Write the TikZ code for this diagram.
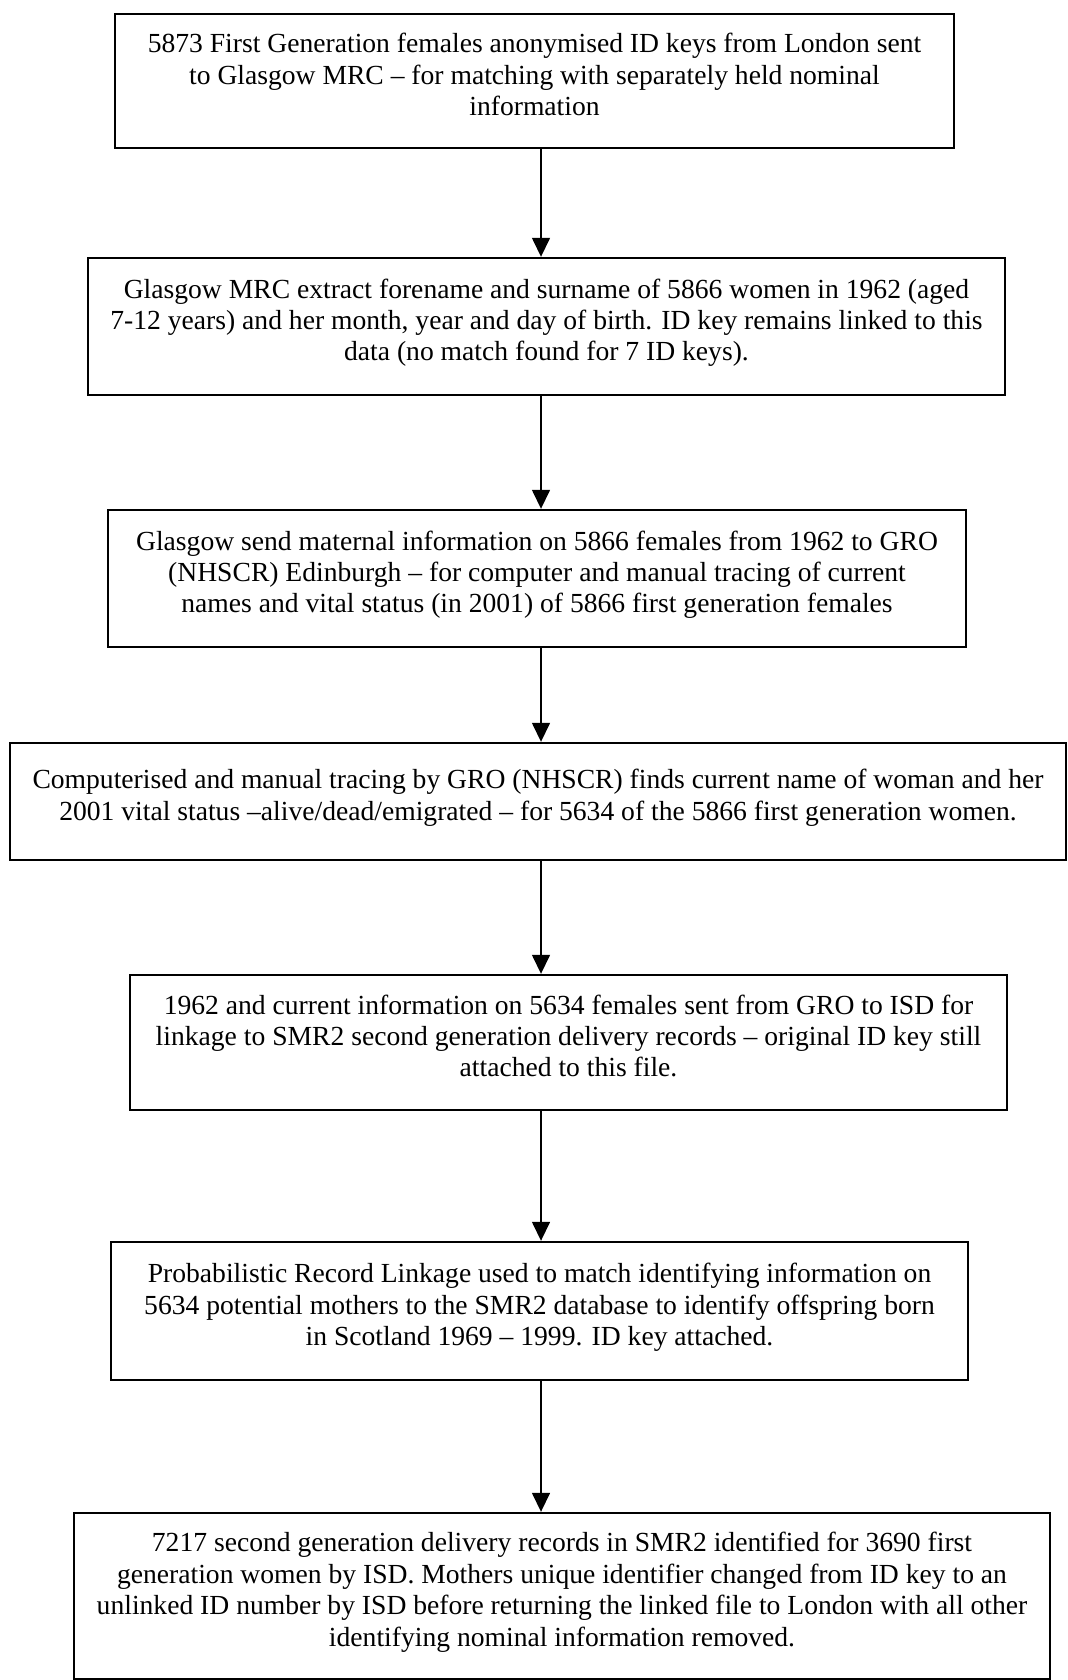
\documentclass[tikz,border=0pt]{standalone}
\usepackage{fontspec}
\setmainfont{Liberation Serif}
\usetikzlibrary{arrows.meta}

\begin{document}
\begin{tikzpicture}[x=0.5pt, y=-0.5pt, >={Triangle[length=9.5pt,width=9pt]},
  stage/.style={rectangle, draw=black, line width=1.2pt, align=center, inner sep=0pt,
    font=\fontsize{13.8}{15.7}\selectfont}]
\useasboundingbox (0,0) rectangle (1067,1680);
\coordinate (spine) at (541,0);
\node[stage, minimum width=419.5pt, minimum height=67pt] (A) at (534.5,81) {5873 First Generation females anonymised ID keys from London sent\\ to Glasgow MRC -- for matching with separately held nominal\\ information\\[-9pt]};
\node[stage, minimum width=458.5pt, minimum height=68.5pt] (B) at (546.5,326.5) {Glasgow MRC extract forename and surname of 5866 women in 1962 (aged\\ 7-12 years) and her month, year and day of birth. ID key remains linked to this\\ data (no match found for 7 ID keys).\\[-9pt]};
\node[stage, minimum width=429pt, minimum height=68.5pt] (C) at (537,578.5) {Glasgow send maternal information on 5866 females from 1962 to GRO\\ (NHSCR) Edinburgh -- for computer and manual tracing of current\\ names and vital status (in 2001) of 5866 first generation females\\[-9pt]};
\node[stage, minimum width=528pt, minimum height=58.5pt] (D) at (538,801.5) {Computerised and manual tracing by GRO (NHSCR) finds current name of woman and her\\ 2001 vital status --alive/dead/emigrated -- for 5634 of the 5866 first generation women.\\[-9pt]};
\node[stage, minimum width=438.5pt, minimum height=67.5pt] (E) at (568.5,1042.5) {1962 and current information on 5634 females sent from GRO to ISD for\\ linkage to SMR2 second generation delivery records -- original ID key still\\ attached to this file.\\[-9pt]};
\node[stage, minimum width=428.5pt, minimum height=69pt] (F) at (539.5,1311) {Probabilistic Record Linkage used to match identifying information on\\ 5634 potential mothers to the SMR2 database to identify offspring born\\ in Scotland 1969 -- 1999. ID key attached.\\[-9pt]};
\node[stage, minimum width=488pt, minimum height=83pt] (G) at (562,1596) {7217 second generation delivery records in SMR2 identified for 3690 first\\ generation women by ISD. Mothers unique identifier changed from ID key to an\\ unlinked ID number by ISD before returning the linked file to London with all other\\ identifying nominal information removed.\\[-9pt]};

\path [->, line width=0.75pt] (A.south -| spine) edge (B.north -| spine)
            (B.south -| spine) edge (C.north -| spine)
            (C.south -| spine) edge (D.north -| spine)
            (D.south -| spine) edge (E.north -| spine)
            (E.south -| spine) edge (F.north -| spine)
            (F.south -| spine) edge (G.north -| spine);
\end{tikzpicture}
\end{document}
